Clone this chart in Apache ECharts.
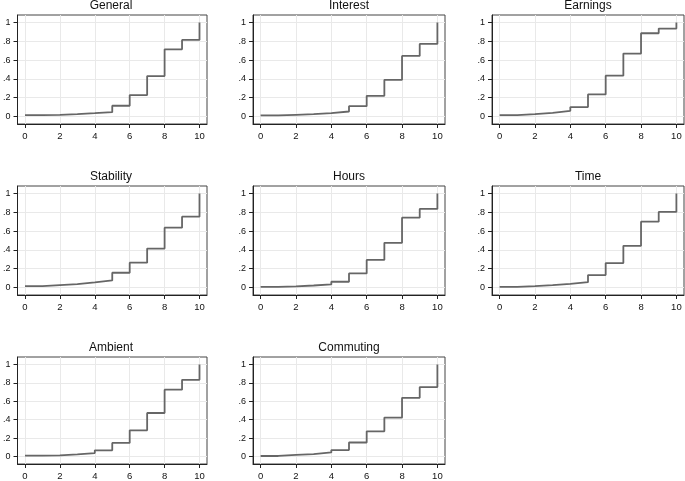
<!DOCTYPE html>
<html>
<head>
<meta charset="utf-8">
<script src="https://cdn.jsdelivr.net/npm/echarts@6/dist/echarts.min.js"></script>
<style>
html,body{margin:0;padding:0;background:#fff;}
#c{width:685px;height:481px;}
</style>
</head>
<body>
<div id="c"></div>
<script>
// Panel titles
const panelTitles = ['General','Interest','Earnings','Stability','Hours','Time','Ambient','Commuting'];
// x categories (scale points 0..10)
const xValues = [0,1,2,3,4,5,6,7,8,9,10];
const xTickValues = [0,2,4,6,8,10];
const yTickValues = [0,0.2,0.4,0.6,0.8,1];
// Cumulative shares per panel
const general   = [0.014,0.018,0.025,0.035,0.046,0.114,0.228,0.430,0.715,0.815,1];
const interest  = [0.011,0.018,0.025,0.036,0.053,0.110,0.220,0.390,0.644,0.772,1];
const earnings  = [0.014,0.025,0.039,0.060,0.100,0.235,0.434,0.669,0.886,0.936,1];
const stability = [0.014,0.025,0.036,0.054,0.075,0.157,0.264,0.414,0.636,0.754,1];
const hours     = [0.007,0.011,0.021,0.032,0.061,0.150,0.293,0.475,0.743,0.836,1];
const time      = [0.007,0.014,0.025,0.039,0.057,0.132,0.260,0.443,0.700,0.804,1];
const ambient   = [0.011,0.014,0.025,0.039,0.068,0.149,0.285,0.473,0.726,0.833,1];
const commuting = [0.007,0.018,0.028,0.046,0.071,0.153,0.274,0.423,0.637,0.754,1];
const panelData = [general,interest,earnings,stability,hours,time,ambient,commuting];

const colLeft = [15, 253, 492];
const rowTop = [15, 186, 357];
const W = 192, H = 109;
const FONT = 'Liberation Sans, Arial, sans-serif';

const grids = [], xAxes = [], yAxes = [], series = [], titles = [];
const fmtY = v => (Math.abs(v) < 1e-9 ? '0' : Math.abs(v-1) < 1e-9 ? '1' : v.toFixed(1).replace(/^0/, ''));

panelData.forEach((d, i) => {
  const r = Math.floor(i / 3), c = i % 3;
  grids.push({left: colLeft[c], top: rowTop[r], width: W, height: H, show: true,
    borderColor: '#444', borderWidth: 1, backgroundColor: 'transparent'});
  titles.push({text: panelTitles[i], left: colLeft[c] + W/2, top: rowTop[r] - 15, textAlign: 'center', padding: 0,
    textStyle: {fontFamily: FONT, fontSize: 12, fontWeight: 'normal', color: '#111'}});
  xAxes.push({gridIndex: i, type: 'value', min: -0.43, max: 10.43,
    axisLine: {show: true, onZero: false, lineStyle: {color: '#222', width: 1}},
    axisTick: {show: true, length: 4, customValues: xTickValues, lineStyle: {color: '#222'}},
    axisLabel: {customValues: xTickValues, margin: 7, fontSize: 9.5, color: '#111', fontFamily: FONT, showMinLabel: true, showMaxLabel: true},
    splitLine: {show: true, lineStyle: {color: '#e9e9e9', width: 1}}
  });
  yAxes.push({gridIndex: i, type: 'value', min: -0.08, max: 1.08,
    axisLine: {show: true, onZero: false, lineStyle: {color: '#222', width: 1}},
    axisTick: {show: true, length: 4, customValues: yTickValues, lineStyle: {color: '#222'}},
    axisLabel: {customValues: yTickValues, margin: 7, fontSize: 9, color: '#111', fontFamily: FONT, formatter: fmtY},
    splitLine: {show: true, lineStyle: {color: '#e9e9e9', width: 1}}
  });
  series.push({type: 'line', xAxisIndex: i, yAxisIndex: i, step: 'end', symbol: 'none',
    data: xValues.map((x, k) => [x, d[k]]),
    lineStyle: {color: '#666', width: 1.8}, animation: false});
});

const chart = echarts.init(document.getElementById('c'), null, {renderer: 'canvas'});
chart.setOption({animation: false, title: titles, grid: grids, xAxis: xAxes, yAxis: yAxes, series: series});
</script>
</body>
</html>
